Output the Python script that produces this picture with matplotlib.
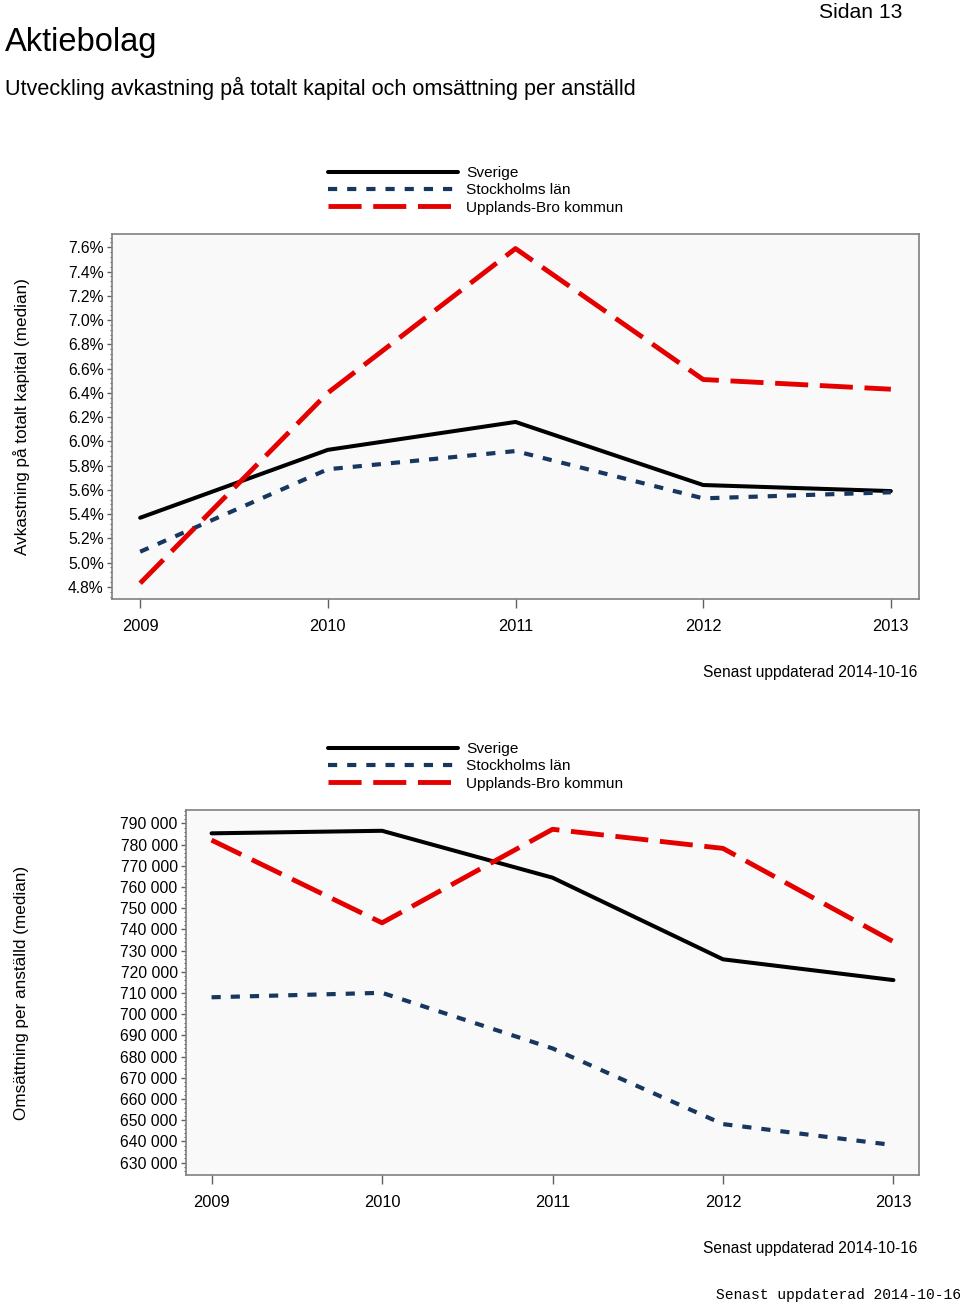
import matplotlib
matplotlib.use('Agg')
import matplotlib.pyplot as plt
from matplotlib.ticker import AutoMinorLocator, FuncFormatter

plt.rcParams['font.family'] = ['Liberation Sans', 'DejaVu Sans']

# data
years = [2009, 2010, 2011, 2012, 2013]
series_names = ['Sverige', 'Stockholms län', 'Upplands-Bro kommun']

avk_sverige = [5.37, 5.93, 6.16, 5.64, 5.59]
avk_stockholm = [5.09, 5.77, 5.92, 5.53, 5.58]
avk_upplandsbro = [4.83, 6.40, 7.59, 6.51, 6.43]
avk_ticks = [4.8, 5.0, 5.2, 5.4, 5.6, 5.8, 6.0, 6.2, 6.4, 6.6, 6.8, 7.0, 7.2, 7.4, 7.6]

oms_sverige = [785300, 786500, 764400, 725900, 716100]
oms_stockholm = [708000, 710100, 683900, 648200, 638300]
oms_upplandsbro = [782100, 743100, 787200, 778200, 734200]
oms_ticks = list(range(630000, 790001, 10000))

updated = 'Senast uppdaterad 2014-10-16'

# stilar per serie
styles = [
    dict(color='black', lw=2.9, ls='-'),
    dict(color='#17375e', lw=3.0, ls=(0, (2.2, 2.4))),
    dict(color='#e50000', lw=3.5, ls=(0, (6.8, 2.4))),
]

fig = plt.figure(figsize=(9.6, 13.06), dpi=100, facecolor='white')
W, H = 960, 1306


def px_axes(l, t, r, b):
    return fig.add_axes([l / W, 1 - b / H, (r - l) / W, (b - t) / H])


def draw_panel(ax, data, ticks, ylim, fmt, legend_top):
    lines = []
    for vals, st, name in zip(data, styles, series_names):
        ln, = ax.plot(years, vals, color=st['color'], lw=st['lw'],
                      linestyle=st['ls'], label=name,
                      solid_capstyle='round', dash_capstyle='butt')
        lines.append(ln)
    ax.set_facecolor('#f9f9f9')
    ax.set_xlim(2008.85, 2013.15)
    ax.set_ylim(*ylim)
    ax.set_xticks(years)
    ax.set_yticks(ticks)
    ax.yaxis.set_major_formatter(FuncFormatter(fmt))
    ax.yaxis.set_minor_locator(AutoMinorLocator(5))
    for sp in ax.spines.values():
        sp.set_color('#808080')
        sp.set_linewidth(1.2)
    ax.tick_params(axis='x', length=6.5, width=1, color='#606060',
                   pad=8, labelsize=11.8)
    ax.tick_params(axis='y', which='major', length=3.5, width=1,
                   color='#606060', pad=2.5, labelsize=11.3)
    ax.tick_params(axis='y', which='minor', length=1.8, width=0.8,
                   color='#606060')
    ax.legend(lines, series_names, loc='upper left',
              bbox_to_anchor=(328 / W, 1 - legend_top / H),
              bbox_transform=fig.transFigure, frameon=False,
              fontsize=11.1, handlelength=8.4, handletextpad=0.55,
              labelspacing=0.22, borderpad=0, borderaxespad=0)


# övre diagram
ax1 = px_axes(112, 234, 919, 599)
draw_panel(ax1, [avk_sverige, avk_stockholm, avk_upplandsbro], avk_ticks,
           (4.70, 7.71), lambda v, p: f'{v:.1f}%', 166)

# nedre diagram
ax2 = px_axes(186, 810, 919, 1175)
draw_panel(ax2, [oms_sverige, oms_stockholm, oms_upplandsbro], oms_ticks,
           (624200, 796300), lambda v, p: f'{int(round(v)):,}'.replace(',', ' '),
           742)

# texter
fig.text(5 / W, 1 - 42 / H, 'Aktiebolag', fontsize=23.5, va='center', ha='left')
fig.text(5 / W, 1 - 88 / H,
         'Utveckling avkastning på totalt kapital och omsättning per anställd',
         fontsize=15.6, va='center', ha='left')
fig.text(902 / W, 1 - 12 / H, 'Sidan 13', fontsize=15.2, va='center', ha='right')

fig.text(22 / W, 1 - 417 / H, 'Avkastning på totalt kapital (median)',
         rotation=90, fontsize=12.3, va='center', ha='center')
fig.text(22 / W, 1 - 993 / H, 'Omsättning per anställd (median)',
         rotation=90, fontsize=12.3, va='center', ha='center')

fig.text(917 / W, 1 - 672 / H, updated, fontsize=11.2, va='center', ha='right')
fig.text(917 / W, 1 - 1248 / H, updated, fontsize=11.2, va='center', ha='right')
fig.text(961 / W, 1 - 1295 / H, updated, fontsize=10.5, va='center',
         ha='right', family=['Liberation Mono', 'DejaVu Sans Mono'])

fig.savefig('out.png', dpi=100, facecolor='white')
